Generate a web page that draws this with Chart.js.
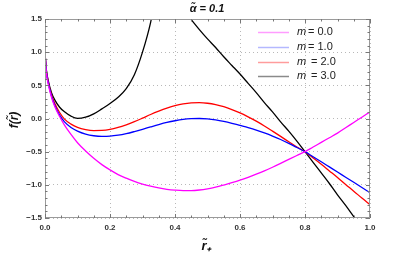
<!DOCTYPE html>
<html>
<head>
<meta charset="utf-8">
<script src="https://cdn.jsdelivr.net/npm/chart.js@4.4.1/dist/chart.umd.min.js"></script>
<style>
html,body{margin:0;padding:0;background:#fff;}
#wrap{width:415px;height:260px;position:relative;}
</style>
</head>
<body>
<div id="wrap"><canvas id="c" width="415" height="260"></canvas></div>
<script>
// ---- data ----
const titleText = "α̃ = 0.1";
const xTitle = "r̃₊";
const yTitle = "f(r̃)";
const xs = [0, 0.004, 0.01, 0.02, 0.03, 0.045, 0.06, 0.08, 0.1, 0.125, 0.15, 0.175, 0.2, 0.225, 0.25, 0.275, 0.3, 0.325, 0.35, 0.375, 0.4, 0.425, 0.45, 0.475, 0.5, 0.525, 0.55, 0.575, 0.6, 0.625, 0.65, 0.675, 0.7, 0.725, 0.75, 0.775, 0.8, 0.825, 0.85, 0.875, 0.9, 0.925, 0.95, 0.975, 1.0];
const m0 = [1, 0.7, 0.52, 0.32, 0.18, 0.03, -0.1, -0.24, -0.365, -0.49, -0.6, -0.695, -0.775, -0.845, -0.9, -0.948, -0.988, -1.02, -1.047, -1.067, -1.08, -1.087, -1.087, -1.078, -1.06, -1.035, -1.003, -0.968, -0.93, -0.887, -0.84, -0.79, -0.735, -0.677, -0.617, -0.558, -0.5, -0.43, -0.36, -0.29, -0.22, -0.14, -0.06, 0.02, 0.1];
const m1 = [1, 0.72, 0.54, 0.34, 0.2, 0.05, -0.05, -0.135, -0.19, -0.235, -0.26, -0.27, -0.267, -0.252, -0.228, -0.197, -0.163, -0.127, -0.092, -0.06, -0.034, -0.014, -0.003, 0.0, -0.005, -0.02, -0.043, -0.072, -0.105, -0.138, -0.175, -0.218, -0.265, -0.317, -0.375, -0.437, -0.5, -0.577, -0.653, -0.73, -0.807, -0.885, -0.962, -1.04, -1.12];
const m2 = [1, 0.73, 0.55, 0.36, 0.23, 0.09, -0.01, -0.085, -0.135, -0.168, -0.182, -0.18, -0.165, -0.135, -0.095, -0.048, 0.005, 0.06, 0.11, 0.155, 0.193, 0.22, 0.235, 0.238, 0.23, 0.21, 0.178, 0.135, 0.085, 0.025, -0.04, -0.112, -0.19, -0.27, -0.35, -0.43, -0.5, -0.595, -0.69, -0.79, -0.89, -0.995, -1.095, -1.2, -1.3];
const m3 = [1, 0.74, 0.57, 0.39, 0.28, 0.17, 0.1, 0.035, 0.002, 0.02, 0.07, 0.145, 0.225, 0.32, 0.45, 0.66, 1.0, 1.45, 2.1, null, null, 1.65, 1.49, 1.34, 1.2, 1.07, 0.93, 0.8, 0.67, 0.53, 0.39, 0.24, 0.1, -0.05, -0.19, -0.34, -0.5, -0.66, -0.82, -0.98, -1.15, -1.31, -1.48, -1.65, -1.83];
const seriesLabels = ["0.0", "1.0", "2.0", "3.0"];
const seriesColors = ["#ff00ff", "#0000ff", "#ff0000", "#000000"];
const legendColors = ["#ff9cff", "#b4b8ff", "#ff9c9c", "#8a8a8a"];
const xTicks = [0, 0.2, 0.4, 0.6, 0.8, 1.0];
const yTicks = [-1.5, -1.0, -0.5, 0.0, 0.5, 1.0, 1.5];

const seriesY = [m0, m1, m2, m3];
const datasets = seriesY.map((ys, i) => ({
  label: "m = " + seriesLabels[i],
  data: xs.map((x, k) => ({x: x, y: ys[k]})),
  borderColor: seriesColors[i],
  borderWidth: 1.3,
  pointRadius: 0,
  cubicInterpolationMode: 'monotone',
  spanGaps: false,
  fill: false
}));

function fmt(v){ const s = Math.abs(v).toFixed(1); return v < 0 ? "\u2212" + s : s; }

const decor = {
  id: 'decor',
  afterDraw(chart){
    const ctx = chart.ctx, a = chart.chartArea;
    const xs_ = chart.scales.x, ys_ = chart.scales.y;
    ctx.save();
    // frame
    ctx.strokeStyle = "#9a9a9a"; ctx.lineWidth = 1;
    ctx.strokeRect(a.left + 0.5, a.top + 0.5, a.right - a.left - 1, a.bottom - a.top - 1);
    // ticks
    ctx.strokeStyle = "#777";
    ctx.beginPath();
    for (let i = 0; i <= 20; i++) {
      const v = i * 0.05; const px = Math.round(xs_.getPixelForValue(v)) + 0.5;
      const len = (i % 4 === 0) ? 4 : 2.5;
      ctx.moveTo(px, a.bottom); ctx.lineTo(px, a.bottom - len);
      ctx.moveTo(px, a.top); ctx.lineTo(px, a.top + len);
    }
    for (let i = -15; i <= 15; i++) {
      const v = i / 10; const py = Math.round(ys_.getPixelForValue(v)) + 0.5;
      const len = (i % 5 === 0) ? 4 : 2.5;
      ctx.moveTo(a.left, py); ctx.lineTo(a.left + len, py);
      ctx.moveTo(a.right, py); ctx.lineTo(a.right - len, py);
    }
    ctx.stroke();
    // legend
    const rows = [32, 47, 62, 76];
    datasets.forEach((d, i) => {
      ctx.strokeStyle = legendColors[i]; ctx.lineWidth = 1.5;
      ctx.beginPath(); ctx.moveTo(258, rows[i] + 0.5); ctx.lineTo(289, rows[i] + 0.5); ctx.stroke();
      ctx.fillStyle = "#222"; ctx.textBaseline = "middle"; ctx.textAlign = "left";
      ctx.font = "italic 11px 'Liberation Sans', Arial, sans-serif";
      ctx.fillText("m", 297, rows[i]);
      ctx.font = "11px 'Liberation Sans', Arial, sans-serif";
      const off = i >= 2 ? 3 : 0;
      ctx.fillText("= " + seriesLabels[i], 308 + off, rows[i]);
    });
    // titles
    ctx.fillStyle = "#111";
    ctx.font = "bold italic 11px 'Liberation Sans', Arial, sans-serif";
    ctx.textAlign = "center"; ctx.textBaseline = "middle";
    ctx.fillText(titleText, 207, 9);
    ctx.font = "bold italic 13px 'Liberation Sans', Arial, sans-serif";
    ctx.fillText(xTitle, 206, 246);
    ctx.save();
    ctx.translate(15, 120); ctx.rotate(-Math.PI / 2);
    ctx.font = "bold italic 12px 'Liberation Sans', Arial, sans-serif";
    ctx.fillText(yTitle, 0, 0);
    ctx.restore();
    ctx.restore();
  }
};

new Chart(document.getElementById('c'), {
  type: 'line',
  data: { datasets },
  options: {
    responsive: false,
    animation: false,
    devicePixelRatio: 1,
    layout: { padding: { left: 0, right: 45, top: 19, bottom: 0 } },
    plugins: { legend: { display: false }, tooltip: { enabled: false }, title: { display: false } },
    scales: {
      x: {
        type: 'linear', min: 0, max: 1,
        afterFit(s){ s.height = 42; },
        afterBuildTicks(s){ s.ticks = xTicks.map(v => ({value: v})); },
        border: { display: false, dash: [1, 3] },
        grid: { color: "#b8b8b8", lineWidth: 1, drawTicks: false },
        ticks: { color: "#333", padding: 5, maxRotation: 0, autoSkip: false,
                 font: { family: "'Liberation Sans', Arial, sans-serif", size: 8, weight: 'bold' },
                 callback: v => fmt(v) }
      },
      y: {
        type: 'linear', min: -1.5, max: 1.5,
        afterFit(s){ s.width = 45; },
        afterBuildTicks(s){ s.ticks = yTicks.map(v => ({value: v})); },
        border: { display: false, dash: [1, 3] },
        grid: { color: "#b8b8b8", lineWidth: 1, drawTicks: false },
        ticks: { color: "#333", padding: 3, autoSkip: false,
                 font: { family: "'Liberation Sans', Arial, sans-serif", size: 8, weight: 'bold' },
                 callback: v => fmt(v) }
      }
    }
  },
  plugins: [decor]
});
</script>
</body>
</html>
